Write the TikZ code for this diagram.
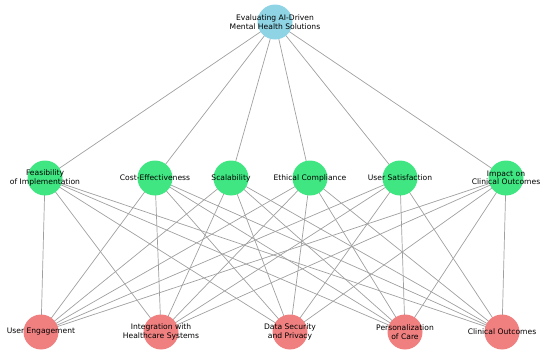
\documentclass[tikz,border=0pt]{standalone}
\usepackage{fontspec}
\setmainfont{DejaVu Sans}
\usetikzlibrary{backgrounds}
\definecolor{topc}{RGB}{143,212,228}
\definecolor{midc}{RGB}{64,230,130}
\definecolor{botc}{RGB}{240,128,128}
\definecolor{edgec}{RGB}{160,160,160}
\begin{document}
\begin{tikzpicture}[x=1pt,y=-1pt,
  vert/.style={circle,minimum size=35pt,inner sep=0pt,text=black,
    label={[font=\fontsize{7.6}{8.4}\selectfont,align=center,inner sep=0pt,text=black]center:#1}},
  topn/.style={vert={#1},fill=topc},
  midn/.style={vert={#1},fill=midc},
  botn/.style={vert={#1},fill=botc},
  link/.style={draw=edgec,line width=0.7pt}]
\useasboundingbox (0,0) rectangle (550,356);
\node[topn={Evaluating AI-Driven\\Mental Health Solutions}] (t) at (275,22) {};
\node[midn={Feasibility\\of Implementation}] (m1) at (45,178) {};
\node[midn={Cost-Effectiveness}] (m2) at (155,178) {};
\node[midn={Scalability}] (m3) at (231,178) {};
\node[midn={Ethical Compliance}] (m4) at (310,178) {};
\node[midn={User Satisfaction}] (m5) at (400,178) {};
\node[midn={Impact on\\Clinical Outcomes}] (m6) at (506,178) {};
\node[botn={User Engagement}] (b1) at (41,332) {};
\node[botn={Integration with\\Healthcare Systems}] (b2) at (161,332) {};
\node[botn={Data Security\\and Privacy}] (b3) at (290,332) {};
\node[botn={Personalization\\of Care}] (b4) at (405,332) {};
\node[botn={Clinical Outcomes}] (b5) at (502,332) {};
\begin{scope}[on background layer]
\foreach \m in {m1,m2,m3,m4,m5,m6}{
  \draw[link] (t.center) -- (\m.center);
  \foreach \b in {b1,b2,b3,b4,b5}{
    \draw[link] (\m.center) -- (\b.center);
  }
}
\end{scope}
\end{tikzpicture}
\end{document}
